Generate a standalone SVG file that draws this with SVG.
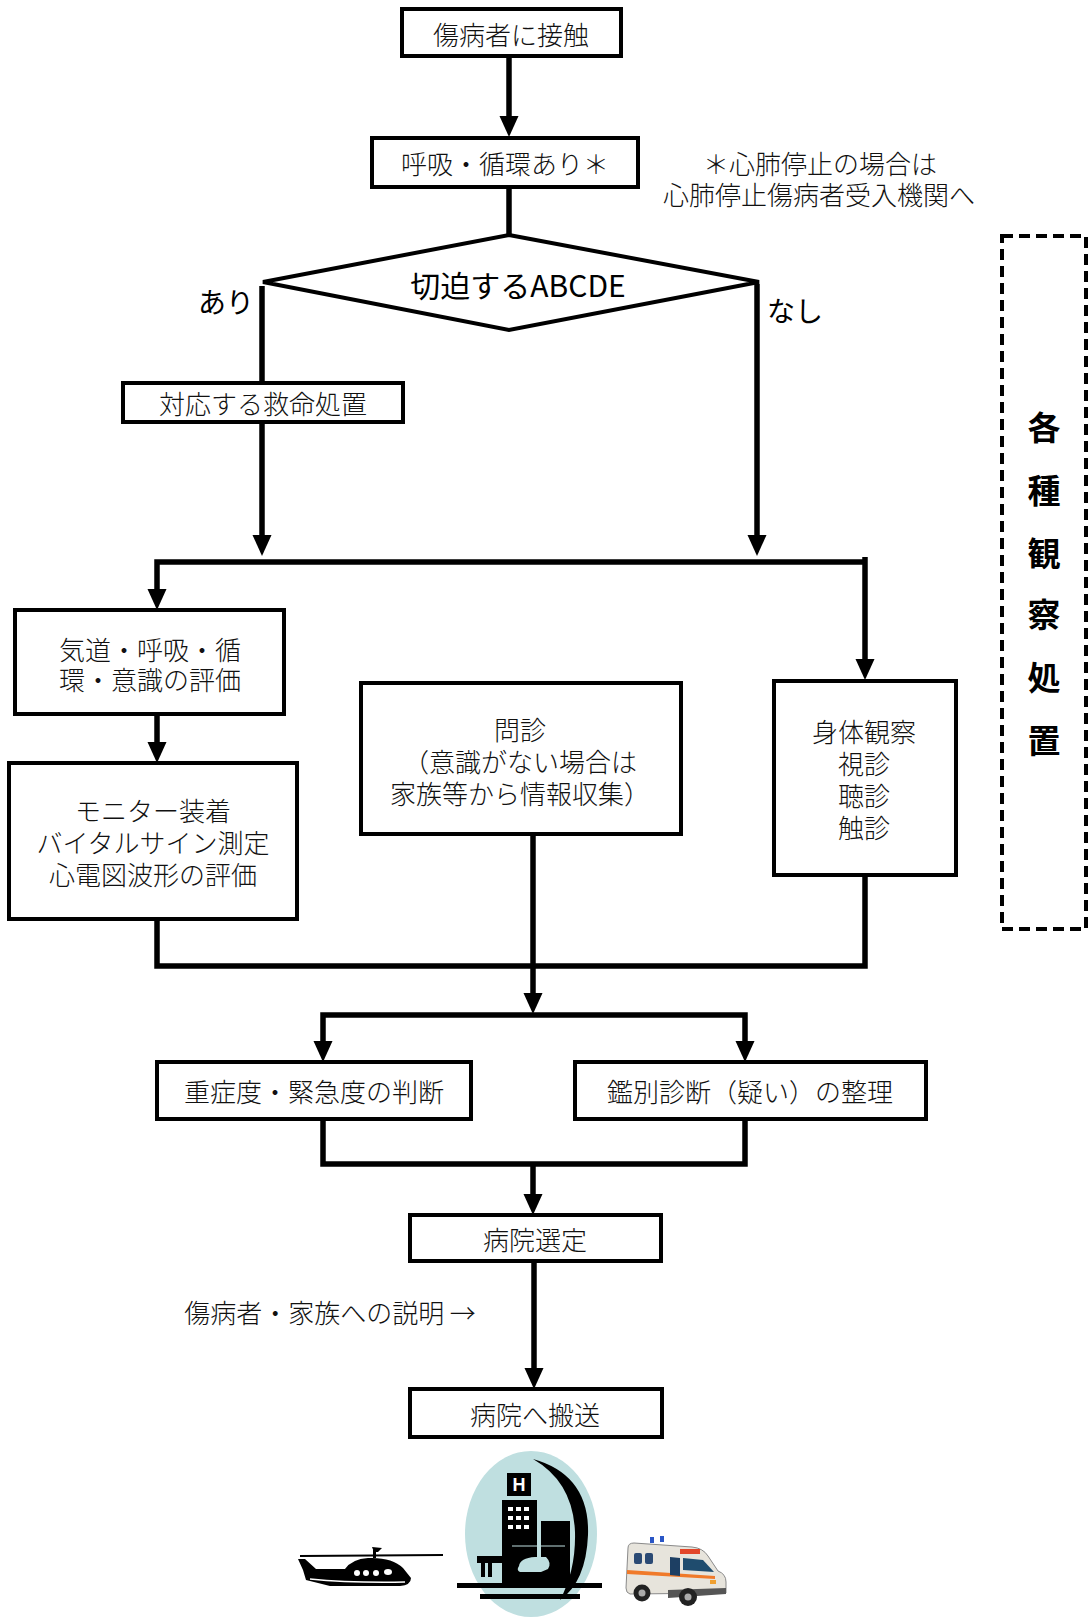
<svg xmlns="http://www.w3.org/2000/svg" width="1089" height="1619" viewBox="0 0 1089 1619">
  <style>
    .box { fill: #fff; stroke: #000; stroke-width: 4; }
    .t { font-family: "Noto Sans CJK JP", sans-serif; font-size: 26px; font-weight: 300; fill: #111; text-anchor: middle; dominant-baseline: central; }
    .lbl { font-family: "Noto Sans CJK JP", sans-serif; font-size: 28px; fill: #000; dominant-baseline: central; }
    .big { font-family: "Noto Sans CJK JP", sans-serif; font-size: 30px; fill: #000; text-anchor: middle; dominant-baseline: central; }
    .vert { font-family: "Noto Sans CJK JP", sans-serif; font-size: 33px; font-weight: bold; fill: #000; text-anchor: middle; dominant-baseline: central; }
    .c { fill: none; stroke: #000; stroke-width: 5.5; }
    .ca { fill: none; stroke: #000; stroke-width: 5.5; marker-end: url(#ah); }
  </style>
  <defs>
    <marker id="ah" markerUnits="userSpaceOnUse" markerWidth="22" markerHeight="20" refX="2" refY="9.5" orient="auto">
      <path d="M0,0 L21,9.5 L0,19 Z" fill="#000"/>
    </marker>
  </defs>

  <rect width="1089" height="1619" fill="#fff"/>

  <!-- connectors -->
  <g id="connectors">
    <path class="ca" d="M509,57 V118"/>
    <path class="c" d="M509,187 V236"/>
    <path class="c" d="M262,286 V383"/>
    <path class="ca" d="M262,422 V537"/>
    <path class="ca" d="M757,284 V537"/>
    <path class="ca" d="M865,562 H157 V591"/>
    <path class="ca" d="M865,557 V661"/>
    <path class="ca" d="M157,714 V744"/>
    <path class="c" d="M157,919 V966 H865 V875"/>
    <path class="ca" d="M533,834 V995"/>
    <path class="ca" d="M533,1015 H323 V1043"/>
    <path class="ca" d="M533,1015 H745 V1043"/>
    <path class="c" d="M323,1119 V1164 H745 V1119"/>
    <path class="ca" d="M533,1164 V1196"/>
    <path class="ca" d="M534,1261 V1370"/>
  </g>

  <!-- nodes -->
  <g id="contact">
    <rect class="box" x="402" y="9" width="219" height="47"/>
    <text class="t" x="511" y="33">傷病者に接触</text>
  </g>

  <g id="breathing">
    <rect class="box" x="372" y="138" width="266" height="49"/>
    <text class="t" x="505" y="162">呼吸・循環あり＊</text>
  </g>

  <g id="cpa-note">
    <text class="t"><tspan x="820" y="162">＊心肺停止の場合は</tspan><tspan x="819" y="193">心肺停止傷病者受入機関へ</tspan></text>
  </g>

  <g id="abcde">
    <polygon class="box" points="509,235 759,282 509,330 263,282"/>
    <text class="big" x="518" y="284">切迫するABCDE</text>
  </g>

  <g id="label-yes">
    <text class="lbl" x="198" y="301">あり</text>
  </g>
  <g id="label-no">
    <text class="lbl" x="767" y="310">なし</text>
  </g>

  <g id="lifesaving">
    <rect class="box" x="123" y="383" width="280" height="39"/>
    <text class="t" x="263" y="402">対応する救命処置</text>
  </g>

  <g id="primary-survey">
    <rect class="box" x="15" y="610" width="269" height="104"/>
    <text class="t"><tspan x="150" y="648">気道・呼吸・循</tspan><tspan x="150" y="678">環・意識の評価</tspan></text>
  </g>

  <g id="monitor">
    <rect class="box" x="9" y="763" width="288" height="156"/>
    <text class="t"><tspan x="153" y="809">モニター装着</tspan><tspan x="153" y="841">バイタルサイン測定</tspan><tspan x="153" y="873">心電図波形の評価</tspan></text>
  </g>

  <g id="interview">
    <rect class="box" x="361" y="683" width="320" height="151"/>
    <text class="t"><tspan x="520" y="728">問診</tspan><tspan x="520" y="760">（意識がない場合は</tspan><tspan x="520" y="792">家族等から情報収集）</tspan></text>
  </g>

  <g id="physical-exam">
    <rect class="box" x="774" y="681" width="182" height="194"/>
    <text class="t"><tspan x="864" y="730">身体観察</tspan><tspan x="864" y="762">視診</tspan><tspan x="864" y="794">聴診</tspan><tspan x="864" y="826">触診</tspan></text>
  </g>

  <g id="observation-group">
    <rect x="1002" y="236" width="84" height="693" fill="none" stroke="#000" stroke-width="4" stroke-dasharray="11 6"/>
    <text class="vert"><tspan x="1044" y="426">各</tspan><tspan x="1044" y="489">種</tspan><tspan x="1044" y="552">観</tspan><tspan x="1044" y="613">察</tspan><tspan x="1044" y="676">処</tspan><tspan x="1044" y="739">置</tspan></text>
  </g>

  <g id="severity">
    <rect class="box" x="157" y="1062" width="314" height="57"/>
    <text class="t" x="314" y="1090">重症度・緊急度の判断</text>
  </g>

  <g id="differential">
    <rect class="box" x="575" y="1062" width="351" height="57"/>
    <text class="t" x="750" y="1090">鑑別診断（疑い）の整理</text>
  </g>

  <g id="hospital-select">
    <rect class="box" x="410" y="1215" width="251" height="46"/>
    <text class="t" x="535" y="1238">病院選定</text>
  </g>

  <g id="explain-note">
    <text class="t" x="330" y="1311">傷病者・家族への説明 →</text>
  </g>

  <g id="transport">
    <rect class="box" x="410" y="1389" width="252" height="48"/>
    <text class="t" x="535" y="1413">病院へ搬送</text>
  </g>

  <!-- helicopter -->
  <g id="helicopter">
    <line x1="300" y1="1556" x2="443" y2="1555" stroke="#000" stroke-width="2"/>
    <path d="M372,1547 L382,1548 L378,1552 L374,1552 Z" fill="#000"/>
    <rect x="373" y="1550" width="3" height="8" fill="#000"/>
    <path d="M298,1559 L305,1559 L316,1569 L345,1569 Q352,1559 368,1558 Q392,1557 403,1568 L411,1578 Q411,1585 400,1586 L330,1586 L306,1580 L303,1570 Z" fill="#000"/>
    <path d="M310,1579 Q350,1583 405,1582" fill="none" stroke="#fff" stroke-width="1.5"/>
    <circle cx="357" cy="1573" r="3" fill="#fff"/>
    <circle cx="366" cy="1573" r="3" fill="#fff"/>
    <circle cx="376" cy="1573" r="3" fill="#fff"/>
    <ellipse cx="388" cy="1572" rx="4" ry="3" fill="#fff"/>
  </g>

  <!-- hospital emblem -->
  <g id="hospital">
    <ellipse cx="531" cy="1534" rx="66" ry="83" fill="#bfdfe0"/>
    <path d="M533,1459 Q590,1475 588,1535 Q586,1582 560,1600 Q576,1570 575,1532 Q573,1482 533,1459 Z" fill="#000"/>
    <rect x="507" y="1473" width="24" height="23" fill="#000"/>
    <text x="519" y="1485" font-family="Liberation Sans, sans-serif" font-size="18" font-weight="bold" fill="#fff" text-anchor="middle" dominant-baseline="central">H</text>
    <rect x="502" y="1500" width="35" height="60" fill="#000"/>
    <g fill="#fff">
      <rect x="508" y="1507" width="5" height="4"/><rect x="516" y="1507" width="5" height="4"/><rect x="524" y="1507" width="5" height="4"/>
      <rect x="508" y="1516" width="5" height="4"/><rect x="516" y="1516" width="5" height="4"/><rect x="524" y="1516" width="5" height="4"/>
      <rect x="508" y="1525" width="5" height="4"/><rect x="516" y="1525" width="5" height="4"/><rect x="524" y="1525" width="5" height="4"/>
    </g>
    <rect x="541" y="1521" width="29" height="40" fill="#000"/>
    <rect x="477" y="1556" width="45" height="7" fill="#000"/>
    <rect x="481" y="1562" width="4" height="15" fill="#000"/>
    <rect x="488" y="1562" width="4" height="15" fill="#000"/>
    <rect x="502" y="1558" width="68" height="25" fill="#000"/>
    <path d="M519,1566 Q520,1558 535,1557 L546,1557 Q552,1563 548,1569 L541,1572 L520,1572 Q516,1570 519,1566 Z" fill="#bfdfe0"/>
    <line x1="512" y1="1546" x2="565" y2="1546" stroke="#bfdfe0" stroke-width="1"/>
    <rect x="457" y="1583" width="145" height="5" fill="#000"/>
    <rect x="480" y="1594" width="100" height="5" fill="#000"/>
  </g>

  <!-- ambulance -->
  <g id="ambulance">
    <rect x="650" y="1537" width="4" height="6" fill="#2a56c6"/>
    <rect x="660" y="1536" width="4" height="6" fill="#2a56c6"/>
    <path d="M628,1548 Q628,1543 634,1543 L692,1547 Q703,1548 708,1556 L718,1571 Q726,1574 726,1582 L726,1593 L630,1594 Q626,1593 626,1588 Z" fill="#e7e4dc" stroke="#8a8a8a" stroke-width="1"/>
    <rect x="680" y="1549" width="20" height="5" fill="#e2462a"/>
    <path d="M627,1570 L715,1576 L715,1579 L627,1574 Z" fill="#f07a2a"/>
    <rect x="634" y="1553" width="8" height="11" rx="2" fill="#2b4a74"/>
    <rect x="645" y="1553" width="8" height="11" rx="2" fill="#2b4a74"/>
    <path d="M670,1557 L680,1558 L680,1576 L670,1575 Z" fill="#1d3f63"/>
    <path d="M683,1558 L703,1560 L714,1572 L683,1570 Z" fill="#1f4c6e"/>
    <rect x="710" y="1580" width="6" height="4" fill="#f0a030"/>
    <path d="M668,1590 L726,1588 L726,1594 L668,1598 Z" fill="#555"/>
    <circle cx="642" cy="1593" r="8.5" fill="#222"/>
    <circle cx="642" cy="1593" r="3.5" fill="#aaa"/>
    <circle cx="688" cy="1597" r="9" fill="#222"/>
    <circle cx="688" cy="1597" r="3.5" fill="#aaa"/>
  </g>
</svg>
